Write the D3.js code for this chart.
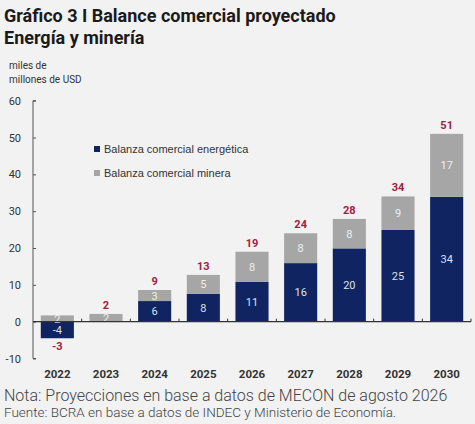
<!DOCTYPE html>
<html><head><meta charset="utf-8">
<script src="https://cdn.jsdelivr.net/npm/d3@7"></script>
<style>
html,body{margin:0;padding:0;background:#f2f2f2;}
svg{display:block;}
</style></head>
<body>
<svg id="c" width="475" height="424"></svg>
<script>
const years = ["2022","2023","2024","2025","2026","2027","2028","2029","2030"];
const energia = [-4.5, 0, 5.6, 7.6, 10.8, 15.9, 19.9, 24.9, 33.9];
const mineria = [1.7, 2.1, 3.0, 5.1, 8.2, 8.1, 8.0, 9.1, 17.1];
const energiaLabels = ["-4", "", "6", "8", "11", "16", "20", "25", "34"];
const mineriaLabels = ["2", "2", "3", "5", "8", "8", "8", "9", "17"];
const totalLabels = ["-3", "2", "9", "13", "19", "24", "28", "34", "51"];
const yTicks = [-10, 0, 10, 20, 30, 40, 50, 60];
const seriesNames = ["Balanza comercial energética", "Balanza comercial minera"];
const colors = ["#0f2460", "#a6a6a6"];
const totalColor = "#a3203f";

const svg = d3.select("#c");
const font = "Roboto, 'Liberation Sans', Arial, sans-serif";

// Title
svg.append("text").attr("x",4).attr("y",22).attr("font-family",font).attr("font-weight",700)
  .attr("font-size",18).attr("fill","#1a1a1a").text("Gráfico 3 I Balance comercial proyectado");
svg.append("text").attr("x",4).attr("y",44).attr("font-family",font).attr("font-weight",700)
  .attr("font-size",18).attr("fill","#1a1a1a").text("Energía y minería");

// Unit
svg.append("text").attr("x",9).attr("y",69).attr("font-family",font).attr("font-size",10)
  .attr("fill","#333").text("miles de");
svg.append("text").attr("x",9).attr("y",83).attr("font-family",font).attr("font-size",10)
  .attr("fill","#333").text("millones de USD");

const x = d3.scaleBand().domain(years).range([33, 471]).paddingInner(0.32).paddingOuter(0.16);
const y = d3.scaleLinear().domain([-10, 60]).range([358.5, 100.7]);

// Y axis
const yAx = svg.append("g").attr("transform","translate(33,0)")
  .call(d3.axisRight(y).tickValues(yTicks).tickSize(3).tickFormat(""));
yAx.select(".domain").attr("stroke","#555").attr("d", `M3,${y(60)}H0V${y(-10)}H3`);
yAx.selectAll(".tick line").attr("stroke","#555");
svg.append("g").selectAll("text").data(yTicks).join("text")
  .attr("x",21).attr("y",d=>y(d)+4).attr("text-anchor","end")
  .attr("font-family",font).attr("font-size",11).attr("fill","#333").text(d=>d);

// bars
const step = x.step();
years.forEach((yr,i)=>{
  const e = energia[i], m = mineria[i];
  const g = svg.append("g");
  const e0 = Math.min(0,e), e1 = Math.max(0,e);
  g.append("rect").attr("x",x(yr)).attr("width",x.bandwidth())
    .attr("y",y(e1)).attr("height",y(e0)-y(e1)).attr("fill",colors[0]);
  const mBase = Math.max(0,e);
  g.append("rect").attr("x",x(yr)).attr("width",x.bandwidth())
    .attr("y",y(mBase+m)).attr("height",y(mBase)-y(mBase+m)).attr("fill",colors[1]);
  const cx = x(yr)+x.bandwidth()/2;
  if (energiaLabels[i]) g.append("text").attr("x",cx).attr("y",(y(e0)+y(e1))/2+4)
    .attr("text-anchor","middle").attr("font-family",font).attr("font-size",11).attr("fill","#dde0ea").text(energiaLabels[i]);
  g.append("text").attr("x",cx).attr("y",(y(mBase)+y(mBase+m))/2+4)
    .attr("text-anchor","middle").attr("font-family",font).attr("font-size",11).attr("fill","#eeeeee").text(mineriaLabels[i]);
  const tot = e+m;
  const ty = tot<0 ? y(e0)+12 : y(mBase+m)-5;
  g.append("text").attr("x",cx).attr("y",ty).attr("text-anchor","middle")
    .attr("font-family",font).attr("font-weight",700).attr("font-size",11).attr("fill",totalColor).text(totalLabels[i]);
});

// X axis line and ticks at band boundaries
svg.append("line").attr("x1",33).attr("x2",471).attr("y1",y(0)).attr("y2",y(0)).attr("stroke","#333").attr("stroke-width",1.2);
const bounds = years.slice(1).map(yr=>x(yr)-step*x.paddingInner()/2);
bounds.push(x(years[years.length-1])+x.bandwidth()+step*x.paddingInner()/2);
svg.append("g").selectAll("line").data(bounds).join("line")
  .attr("x1",d=>d).attr("x2",d=>d).attr("y1",y(0)).attr("y2",y(0)-3).attr("stroke","#333");
svg.append("g").selectAll("text").data(years).join("text")
  .attr("x",d=>x(d)+x.bandwidth()/2).attr("y",378).attr("text-anchor","middle")
  .attr("font-family",font).attr("font-weight",700).attr("font-size",11.5).attr("fill","#333").text(d=>d);

// legend
const leg = svg.append("g");
seriesNames.forEach((n,i)=>{
  const ly = 149 + i*24;
  leg.append("rect").attr("x",94).attr("y",ly-3).attr("width",6).attr("height",6).attr("fill",colors[i]);
  leg.append("text").attr("x",104).attr("y",ly+4).attr("font-family","'Liberation Sans', Arial, sans-serif")
    .attr("font-size",11).attr("fill","#333").text(n);
});

// notes
svg.append("text").attr("x",4).attr("y",400.5).attr("font-family",font).attr("font-weight",300)
  .attr("font-size",16).attr("fill","#444").text("Nota: Proyecciones en base a datos de MECON de agosto 2026");
svg.append("text").attr("x",4).attr("y",417).attr("font-family",font).attr("font-weight",300)
  .attr("font-size",13.5).attr("fill","#444").text("Fuente: BCRA en base a datos de INDEC y Ministerio de Economía.");
</script>
</body></html>
